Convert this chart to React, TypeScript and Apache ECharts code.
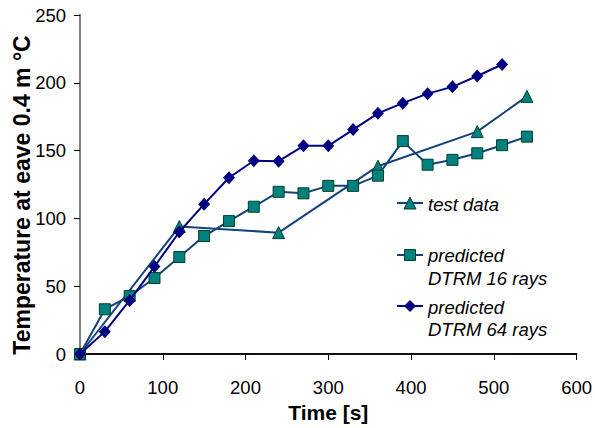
import React, { useEffect, useRef } from "react";
import * as echarts from "echarts";

const testTimes = [0, 120, 240, 360, 480, 540];
const testValues = [0, 94, 89.5, 138.5, 164, 190];

const predTimes = [0, 30, 60, 90, 120, 150, 180, 210, 240, 270, 300, 330, 360, 390, 420, 450, 480, 510, 540];
const pred16Values = [0, 33, 42.7, 56, 71.5, 87, 98, 108.6, 119.6, 118.5, 124, 124, 131.5, 157, 139.6, 143.2, 148, 154, 160.3];

const pred64Times = [0, 30, 60, 90, 120, 150, 180, 210, 240, 270, 300, 330, 360, 390, 420, 450, 480, 510];
const pred64Values = [0, 16.5, 39.5, 64.5, 90, 110.5, 130, 142.5, 142.2, 153.5, 153.5, 165.5, 177.5, 185, 192, 197, 205, 213.5];

const xTicks = [0, 100, 200, 300, 400, 500, 600];
const yTicks = [0, 50, 100, 150, 200, 250];

const seriesNames = ["test data", "predicted\nDTRM 16 rays", "predicted\nDTRM 64 rays"];
const yTitle = "Temperature at eave 0.4 m °C";
const xTitle = "Time [s]";

const FONT = '"Liberation Sans", Arial, sans-serif';
const LINE_BLUE = "#12427A";
const TEAL = "#008080";
const NAVY = "#000080";

export default function App() {
  const ref = useRef<HTMLDivElement>(null);
  useEffect(() => {
    document.body.style.margin = "0";
    if (!ref.current) return;
    const chart = echarts.init(ref.current, null, { renderer: "svg" });
    const zip = (xs: number[], ys: number[]) => xs.map((x, i) => [x, ys[i]]);
    const legendText = (x: number, y: number, t: string) => ({
      type: "text",
      x,
      y,
      style: {
        text: t,
        fontFamily: FONT,
        fontSize: 18.5,
        fontStyle: "italic",
        fill: "#000",
        verticalAlign: "middle",
        align: "left",
      },
    });
    const legendLine = (y: number, color: string) => ({
      type: "line",
      shape: { x1: 397, y1: y, x2: 423, y2: y },
      style: { stroke: color, lineWidth: 2 },
    });
    chart.setOption({
      animation: false,
      grid: { left: 80, right: 15, top: 15, bottom: 72 },
      xAxis: [
        {
          type: "value",
          min: 0,
          max: 600,
          interval: 100,
          name: xTitle,
          nameLocation: "middle",
          nameGap: 48,
          nameTextStyle: { fontFamily: FONT, fontSize: 21, fontWeight: "bold", color: "#000" },
          axisLine: { show: true, lineStyle: { color: "#000", width: 1.5 } },
          axisTick: { show: true, inside: false, length: 6, lineStyle: { color: "#000" } },
          axisLabel: {
            fontFamily: FONT,
            fontSize: 18.5,
            color: "#000",
            margin: 24,
            formatter: (v: number) => (xTicks.includes(v) ? String(v) : ""),
          },
          splitLine: { show: false },
        },
        {
          type: "value",
          position: "top",
          min: 0,
          max: 600,
          interval: 100,
          axisLine: { show: true, lineStyle: { color: "#000", width: 1.5 } },
          axisTick: { show: false },
          axisLabel: { show: false },
          splitLine: { show: false },
        },
      ],
      yAxis: [
        {
          type: "value",
          min: 0,
          max: 250,
          interval: 50,
          axisLine: { show: true, lineStyle: { color: "#000", width: 1.5 } },
          axisTick: { show: true, inside: false, length: 6, lineStyle: { color: "#000" } },
          axisLabel: {
            fontFamily: FONT,
            fontSize: 18.5,
            color: "#000",
            margin: 14,
            formatter: (v: number) => (yTicks.includes(v) ? String(v) : ""),
          },
          splitLine: { show: false },
        },
        {
          type: "value",
          position: "right",
          min: 0,
          max: 250,
          interval: 50,
          axisLine: { show: true, lineStyle: { color: "#808080", width: 2 } },
          axisTick: { show: false },
          axisLabel: { show: false },
          splitLine: { show: false },
        },
      ],
      series: [
        {
          name: seriesNames[0],
          type: "line",
          data: zip(testTimes, testValues),
          symbol: "triangle",
          symbolSize: [12, 12],
          lineStyle: { color: LINE_BLUE, width: 2 },
          itemStyle: { color: TEAL, borderColor: "#004030", borderWidth: 1 },
          z: 2,
        },
        {
          name: seriesNames[1],
          type: "line",
          data: zip(predTimes, pred16Values),
          symbol: "rect",
          symbolSize: 11,
          lineStyle: { color: LINE_BLUE, width: 2 },
          itemStyle: { color: TEAL, borderColor: "#004020", borderWidth: 1 },
          z: 3,
        },
        {
          name: seriesNames[2],
          type: "line",
          data: zip(pred64Times, pred64Values),
          symbol: "diamond",
          symbolSize: [12, 13],
          lineStyle: { color: NAVY, width: 2 },
          itemStyle: { color: NAVY, borderColor: NAVY, borderWidth: 0 },
          z: 4,
        },
      ],
      graphic: [
        {
          type: "text",
          x: 22,
          y: 195,
          rotation: Math.PI / 2,
          style: {
            text: yTitle,
            fontFamily: FONT,
            fontSize: 23,
            fontWeight: "bold",
            fill: "#000",
            align: "center",
            verticalAlign: "middle",
          },
        },
        legendLine(203, LINE_BLUE),
        {
          type: "polygon",
          shape: { points: [[410, 197], [416, 209], [404, 209]] },
          style: { fill: TEAL, stroke: "#004030", lineWidth: 1 },
        },
        legendText(428, 204, "test data"),
        legendLine(255, LINE_BLUE),
        {
          type: "rect",
          shape: { x: 404.5, y: 249.5, width: 11, height: 11 },
          style: { fill: TEAL, stroke: "#004020", lineWidth: 1 },
        },
        legendText(428, 255, "predicted"),
        legendText(428, 278, "DTRM 16 rays"),
        legendLine(306, NAVY),
        {
          type: "polygon",
          shape: { points: [[410, 300], [416, 306], [410, 312], [404, 306]] },
          style: { fill: NAVY },
        },
        legendText(428, 307, "predicted"),
        legendText(428, 329, "DTRM 64 rays"),
      ],
    });
    return () => chart.dispose();
  }, []);
  return <div ref={ref} style={{ width: 595, height: 428 }} />;
}
